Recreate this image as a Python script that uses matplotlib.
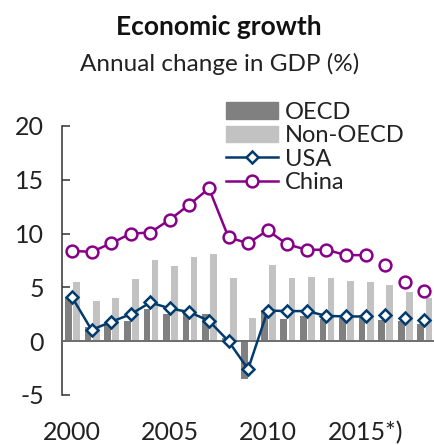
import matplotlib
matplotlib.use("Agg")
import matplotlib.pyplot as plt
from matplotlib.patches import Patch
from matplotlib.lines import Line2D
import numpy as np

plt.rcParams['font.family'] = ['Lato', 'DejaVu Sans']

years = list(range(2000, 2019))
oecd = [4.0, 1.3, 1.6, 1.9, 3.0, 2.5, 2.8, 2.5, 0.3, -3.5, 2.9, 2.1, 2.3, 2.1, 2.2, 2.2, 2.0, 1.9, 1.6]
non_oecd = [5.5, 3.7, 4.0, 5.75, 7.5, 6.95, 7.8, 8.1, 5.9, 2.2, 7.05, 5.85, 6.0, 5.85, 5.6, 5.5, 5.25, 4.55, 4.05]
usa = [4.1, 1.05, 1.8, 2.5, 3.6, 3.05, 2.7, 1.9, 0.0, -2.6, 2.85, 2.8, 2.8, 2.35, 2.3, 2.3, 2.4, 2.2, 2.0]
china = [8.4, 8.3, 9.1, 10.0, 10.1, 11.3, 12.7, 14.2, 9.65, 9.1, 10.3, 9.0, 8.5, 8.5, 8.0, 8.0, 7.05, 5.5, 4.7]
last_actual = 2015
xtick_vals = [2000, 2005, 2010, 2015]
xtick_labels = ['2000', '2005', '2010', '2015*)']
yticks = [-5, 0, 5, 10, 15, 20]

C_OECD = '#808080'
C_NON = '#c2c2c2'
C_USA = '#033b6e'
C_CHINA = '#880088'
TXT = '#222222'

fig = plt.figure(figsize=(4.34, 4.45), dpi=100)
ax = fig.add_axes([62/434, 1-395/445, 372/434, 269/445])

x = np.array(years, dtype=float)
ax.bar(x - 0.175, oecd, width=0.34, color=C_OECD, zorder=2)
ax.bar(x + 0.24, non_oecd, width=0.34, color=C_NON, zorder=2)
ax.axhline(0, color='#6e6e6e', lw=1.4, zorder=3)

n = years.index(last_actual) + 1
mk_usa = dict(marker='D', ms=6.5, mfc='white', mec=C_USA, mew=1.8)
mk_ch = dict(marker='o', ms=8.5, mfc='white', mec=C_CHINA, mew=1.8)
ax.plot(x[:n], usa[:n], color=C_USA, lw=1.8, zorder=4, **mk_usa)
ax.plot(x[n:], usa[n:], ls='none', zorder=4, **mk_usa)
ax.plot(x[:n], china[:n], color=C_CHINA, lw=1.8, zorder=4, **mk_ch)
ax.plot(x[n:], china[n:], ls='none', zorder=4, **mk_ch)

ax.set_xlim(1999.49, 2018.5)
ax.set_ylim(-5, 20)
for s in ['top', 'right', 'bottom']:
    ax.spines[s].set_visible(False)
ax.spines['left'].set_color('#333333')
ax.spines['left'].set_linewidth(1.1)
ax.spines['left'].set_bounds(-5, 20)
ax.set_yticks(yticks)
ax.set_yticklabels([str(v) for v in yticks])
ax.tick_params(axis='y', direction='in', length=6, width=1.1, color='#333333',
               pad=13, labelsize=18, labelcolor=TXT)
ax.set_xticks(xtick_vals)
ax.set_xticklabels(xtick_labels)
ax.tick_params(axis='x', length=0, pad=19, labelsize=18, labelcolor=TXT)

handles = [
    Patch(color=C_OECD, label='OECD'),
    Patch(color=C_NON, label='Non-OECD'),
    Line2D([], [], color=C_USA, lw=1.8, label='USA', **mk_usa),
    Line2D([], [], color=C_CHINA, lw=1.8, label='China', **mk_ch),
]
leg = fig.legend(handles=handles, loc='upper left', bbox_to_anchor=(226/434, 1-102/445),
                 frameon=False, fontsize=17, handlelength=2.2, handletextpad=0.3,
                 labelspacing=0.1, borderpad=0, borderaxespad=0)
for t in leg.get_texts():
    t.set_color(TXT)

fig.text(0.505, 1-35/445, 'Economic growth', ha='center', va='baseline',
         fontsize=19, fontweight='bold', color='#111111')
fig.text(0.505, 1-71/445, 'Annual change in GDP (%)', ha='center', va='baseline',
         fontsize=17.5, color=TXT)

fig.savefig('out.png', dpi=100)
